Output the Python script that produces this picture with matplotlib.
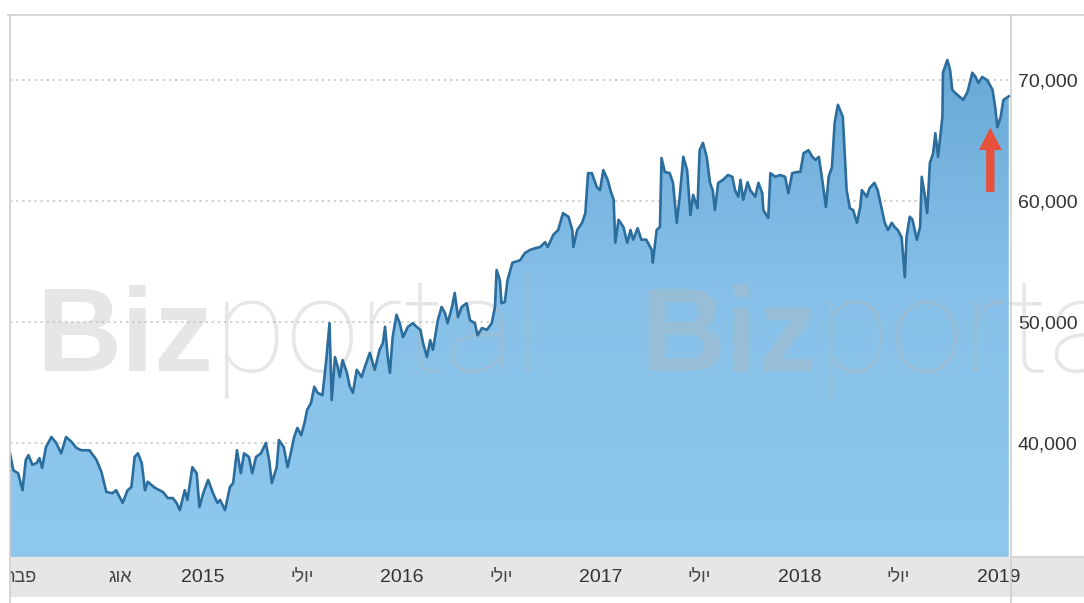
import matplotlib
matplotlib.use('Agg')
import matplotlib.pyplot as plt
import matplotlib.dates as mdates
import numpy as np
import pandas as pd
from matplotlib.lines import Line2D
from matplotlib.colors import LinearSegmentedColormap
from matplotlib.ticker import FuncFormatter

dates = [
    '2014-01-11', '2014-01-17', '2014-01-26', '2014-02-03', '2014-02-09', '2014-02-14', '2014-02-21',
    '2014-03-01', '2014-03-06', '2014-03-11', '2014-03-18', '2014-03-28', '2014-04-06', '2014-04-15',
    '2014-04-24', '2014-05-04', '2014-05-13', '2014-05-22', '2014-06-06', '2014-06-19', '2014-06-28',
    '2014-07-07', '2014-07-18', '2014-07-25', '2014-08-06', '2014-08-15', '2014-08-22', '2014-08-28',
    '2014-09-03', '2014-09-10', '2014-09-16', '2014-09-21', '2014-10-04', '2014-10-19', '2014-10-28',
    '2014-11-06', '2014-11-13', '2014-11-19', '2014-11-28', '2014-12-03', '2014-12-12', '2014-12-20',
    '2014-12-25', '2015-01-01', '2015-01-10', '2015-01-19', '2015-01-27', '2015-02-01', '2015-02-10',
    '2015-02-19', '2015-02-25', '2015-03-04', '2015-03-11', '2015-03-17', '2015-03-26', '2015-04-01',
    '2015-04-08', '2015-04-17', '2015-04-26', '2015-05-02', '2015-05-07', '2015-05-16', '2015-05-20',
    '2015-05-29', '2015-06-05', '2015-06-12', '2015-06-17', '2015-06-23', '2015-06-30', '2015-07-06',
    '2015-07-11', '2015-07-18', '2015-07-24', '2015-07-30', '2015-08-08', '2015-08-15', '2015-08-21',
    '2015-08-25', '2015-08-31', '2015-09-05', '2015-09-09', '2015-09-14', '2015-09-22', '2015-09-27',
    '2015-10-03', '2015-10-10', '2015-10-19', '2015-10-25', '2015-11-03', '2015-11-12', '2015-11-21',
    '2015-11-27', '2015-12-01', '2015-12-06', '2015-12-10', '2015-12-15', '2015-12-22', '2015-12-28',
    '2016-01-03', '2016-01-12', '2016-01-21', '2016-01-28', '2016-02-04', '2016-02-09', '2016-02-16',
    '2016-02-22', '2016-02-27', '2016-03-07', '2016-03-14', '2016-03-20', '2016-03-25', '2016-04-02',
    '2016-04-07', '2016-04-13', '2016-04-20', '2016-04-29', '2016-05-05', '2016-05-14', '2016-05-19',
    '2016-05-27', '2016-06-05', '2016-06-14', '2016-06-20', '2016-06-23', '2016-06-29', '2016-07-02',
    '2016-07-08', '2016-07-13', '2016-07-22', '2016-08-05', '2016-08-14', '2016-08-23', '2016-09-02',
    '2016-09-11', '2016-09-20', '2016-09-25', '2016-10-05', '2016-10-14', '2016-10-23', '2016-11-02',
    '2016-11-09', '2016-11-11', '2016-11-18', '2016-11-27', '2016-12-03', '2016-12-08', '2016-12-15',
    '2016-12-24', '2016-12-30', '2017-01-05', '2017-01-13', '2017-01-18', '2017-01-24', '2017-01-27',
    '2017-02-02', '2017-02-11', '2017-02-18', '2017-02-24', '2017-03-01', '2017-03-09', '2017-03-16',
    '2017-03-25', '2017-04-04', '2017-04-06', '2017-04-13', '2017-04-19', '2017-04-22', '2017-04-28',
    '2017-05-07', '2017-05-13', '2017-05-20', '2017-05-26', '2017-06-01', '2017-06-08', '2017-06-14',
    '2017-06-19', '2017-06-27', '2017-07-01', '2017-07-07', '2017-07-14', '2017-07-20', '2017-07-25',
    '2017-07-29', '2017-08-04', '2017-08-13', '2017-08-22', '2017-08-30', '2017-09-04', '2017-09-10',
    '2017-09-14', '2017-09-19', '2017-09-27', '2017-10-02', '2017-10-11', '2017-10-17', '2017-10-24',
    '2017-10-26', '2017-11-04', '2017-11-08', '2017-11-17', '2017-11-26', '2017-12-05', '2017-12-11',
    '2017-12-18', '2017-12-27', '2018-01-02', '2018-01-08', '2018-01-17', '2018-01-24', '2018-01-30',
    '2018-02-05', '2018-02-12', '2018-02-18', '2018-02-23', '2018-03-01', '2018-03-06', '2018-03-12',
    '2018-03-21', '2018-03-28', '2018-04-03', '2018-04-09', '2018-04-16', '2018-04-22', '2018-04-25',
    '2018-05-04', '2018-05-09', '2018-05-18', '2018-05-24', '2018-06-01', '2018-06-06', '2018-06-12',
    '2018-06-19', '2018-06-24', '2018-06-30', '2018-07-07', '2018-07-13', '2018-07-16', '2018-07-22',
    '2018-07-27', '2018-08-04', '2018-08-10', '2018-08-13', '2018-08-19', '2018-08-23', '2018-08-28',
    '2018-09-03', '2018-09-07', '2018-09-12', '2018-09-20', '2018-09-21', '2018-09-29', '2018-10-04',
    '2018-10-08', '2018-10-13', '2018-10-22', '2018-10-28', '2018-11-05', '2018-11-14', '2018-11-20',
    '2018-11-25', '2018-12-02', '2018-12-11', '2018-12-21', '2018-12-26', '2018-12-30', '2019-01-05',
    '2019-01-10', '2019-01-20',
]

values = [
    39150, 37750, 37500, 36100, 38600, 39000, 38200,
    38350, 38750, 37950, 39650, 40500, 40000, 39150,
    40500, 40100, 39600, 39400, 39400, 38600, 37600,
    35950, 35850, 36100, 35050, 36100, 36350, 38850,
    39150, 38350, 36100, 36800, 36300, 35950, 35450,
    35450, 35050, 34450, 36100, 35300, 38000, 37500,
    34700, 35850, 36950, 35850, 35050, 35300, 34450,
    36350, 36700, 39400, 37500, 39150, 38850, 37500,
    38850, 39150, 40000, 38600, 36700, 38000, 40250,
    39650, 38000, 39400, 40500, 41250, 40650, 41650,
    42750, 43300, 44650, 44150, 43950, 46850, 49900,
    43550, 47100, 46300, 45450, 46850, 45800, 44700,
    44150, 46050, 45450, 46300, 47450, 46050, 47700,
    48250, 49600, 47100, 45800, 48750, 50600, 49900,
    48750, 49600, 49900, 49600, 49350, 48250, 47100,
    48500, 47700, 50150, 51250, 50750, 49900, 51250,
    52400, 50400, 51250, 51550, 50150, 49900, 48900,
    49500, 49350, 49900, 51250, 54300, 53450, 51550,
    51650, 53450, 54900, 55100, 55700, 55950, 56100,
    56200, 56600, 56200, 57200, 57600, 59000, 58700,
    57600, 56200, 57600, 58200, 59000, 62300, 62300,
    61150, 60900, 62550, 61750, 60900, 60100, 56550,
    58450, 57850, 56550, 57600, 56800, 57750, 56800,
    56800, 55950, 54900, 57600, 57850, 63550, 62400,
    62300, 61500, 58200, 60650, 63650, 62550, 58850,
    60500, 59400, 64200, 64800, 63650, 61500, 60900,
    59250, 61500, 61750, 62150, 62000, 60900, 60350,
    61750, 60100, 61550, 60900, 60350, 61500, 60650,
    59250, 58600, 62300, 62000, 62150, 62000, 60650,
    62300, 62400, 62400, 63950, 64200, 63650, 63400,
    63650, 61500, 59500, 62000, 62800, 66450, 67950,
    66950, 60900, 59400, 59250, 58200, 59500, 60900,
    60350, 61050, 61500, 60900, 59250, 58200, 57600,
    58200, 57850, 57600, 57000, 53700, 57000, 58700,
    58450, 56800, 57850, 62000, 60350, 59000, 63150,
    63950, 65600, 63650, 66950, 70600, 71650, 70850,
    69200, 68950, 68600, 68350, 69000, 70600, 70250,
    69750, 70250, 70000, 69200, 67750, 66100, 66950,
    68350, 68650,
]

y_ticks = [40000, 50000, 60000, 70000]
year_ticks = ['2015-01-01', '2016-01-01', '2017-01-01', '2018-01-01', '2019-01-01']
year_labels = ['2015', '2016', '2017', '2018', '2019']
month_ticks = ['2014-02-01', '2014-08-01', '2015-07-01', '2016-07-01', '2017-07-01', '2018-07-01']
month_labels = ['פבר', 'אוג', 'יולי', 'יולי', 'יולי', 'יולי']
arrow_date = '2018-12-17'
arrow_from, arrow_to = 60750, 66050
x_start, x_end = '2014-01-11', '2019-01-24'
y_min, y_max = 30580, 75370

W, H = 1084, 603
fig = plt.figure(figsize=(W / 100, H / 100), dpi=100)
fig.patch.set_facecolor('white')

def fx(px):
    return px / W

def fy(py):
    return 1 - py / H

L, R, T, B = 10, 1011, 15, 557
ax = fig.add_axes([fx(L), fy(B), (R - L) / W, (B - T) / H])

x = mdates.date2num(pd.to_datetime(dates))
y = np.array(values, dtype=float)
x0 = mdates.date2num(pd.Timestamp(x_start))
x1 = mdates.date2num(pd.Timestamp(x_end))

poly = ax.fill_between(x, y, y_min, color='none', lw=0, zorder=2)
grad = np.linspace(1, 0, 256).reshape(-1, 1)
cmap = LinearSegmentedColormap.from_list('g', ['#8fc8ed', '#86c0e8', '#63a4d4'])
im = ax.imshow(grad, aspect='auto', cmap=cmap, extent=[x0, x1, y_min, y_max],
               origin='upper', zorder=2, interpolation='bilinear')
im.set_clip_path(poly.get_paths()[0], transform=ax.transData)

ax.plot(x, y, color='#2b6d9d', lw=1.9, zorder=4, solid_joinstyle='round')

ax.set_xlim(x0, x1)
ax.set_ylim(y_min, y_max)

ax.set_yticks(y_ticks)
ax.yaxis.tick_right()
ax.yaxis.set_major_formatter(FuncFormatter(lambda v, p: f'{int(v):,}'))
ax.tick_params(axis='y', length=0, pad=5, labelsize=14, labelcolor='#333333')
for t in ax.get_yticklabels():
    t.set_fontfamily('Liberation Sans')
ax.set_xticks([])
ax.yaxis.grid(True, color='#c4c4c4', linestyle=(0, (1.5, 2.5)), lw=1.1)
ax.set_axisbelow(True)
for s in ax.spines.values():
    s.set_visible(False)

# watermark
wm_kw = dict(transform=fig.transFigure, color='#b8b8b8', alpha=0.35, zorder=3,
             clip_on=False, va='baseline', ha='left')
for bx, px in [(36, 214), (640, 818)]:
    ax.text(fx(bx), fy(371), 'Biz', fontsize=85, fontweight='bold',
            family='Liberation Sans', **wm_kw)
    ax.text(fx(px), fy(371), 'portal', fontsize=95, fontweight='light',
            family=['Roboto', 'DejaVu Sans'], **wm_kw)

# arrow
ad = mdates.date2num(pd.Timestamp(arrow_date))
ax.annotate('', xy=(ad, arrow_to), xytext=(ad, arrow_from),
            arrowprops=dict(arrowstyle='simple,head_length=1.6,head_width=1.65,tail_width=0.6',
                            color='#e8503e', lw=0, shrinkA=0, shrinkB=0, mutation_scale=10),
            zorder=5)

# x-axis band
ppd = (R - L) / (x1 - x0)
band = fig.add_axes([fx(L), fy(597), (W - L) / W, 40 / H])
band.set_facecolor('#e6e6e6')
band.set_xlim(x0, x0 + (W - L) / ppd)
band.set_ylim(0, 1)
band.set_xticks([])
band.set_yticks([])
for s in band.spines.values():
    s.set_visible(False)
for d, lab in zip(year_ticks, year_labels):
    band.text(mdates.date2num(pd.Timestamp(d)), 0.5, lab, ha='center', va='center',
              fontsize=14, color='#333333', family='Liberation Sans', clip_on=True)
for d, lab in zip(month_ticks, month_labels):
    band.text(mdates.date2num(pd.Timestamp(d)), 0.5, lab[::-1], ha='center', va='center',
              fontsize=13, color='#444444', family=['Liberation Sans', 'DejaVu Sans'], clip_on=True)

# frame lines
line_c = '#cfcfcf'
fig.add_artist(Line2D([fx(8), fx(W)], [fy(T), fy(T)], color=line_c, lw=1.2))
fig.add_artist(Line2D([fx(L), fx(L)], [fy(T), fy(H)], color=line_c, lw=1.2))
fig.add_artist(Line2D([fx(R), fx(R)], [fy(T), fy(H)], color=line_c, lw=1.2))
fig.add_artist(Line2D([fx(R), fx(W)], [fy(B), fy(B)], color=line_c, lw=1.2))

fig.savefig('out.png', dpi=100, facecolor='white')
